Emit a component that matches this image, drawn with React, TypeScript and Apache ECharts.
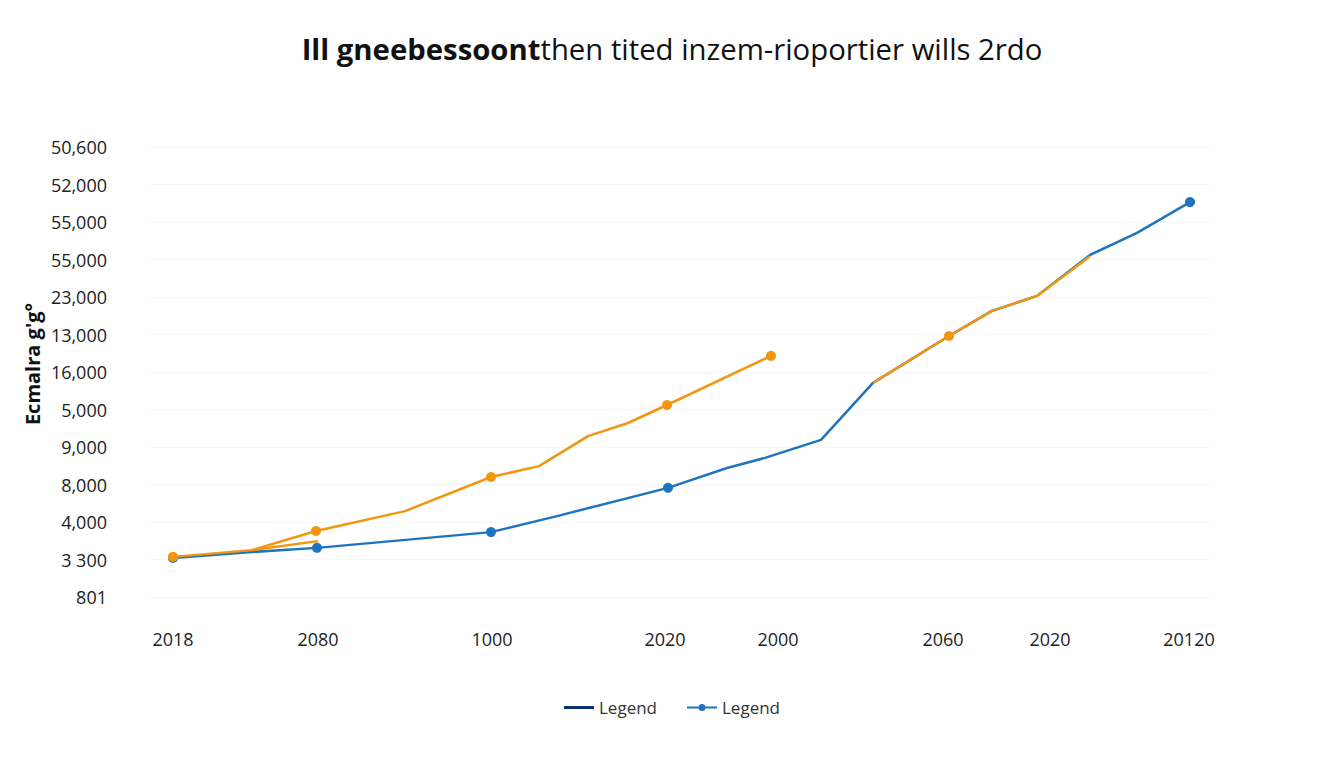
import React, { useEffect, useRef } from "react";
import * as echarts from "echarts";

const titleBold = "Ill gneebessoont";
const titleRest = "then tited inzem-rioportier wills 2rdo";
const yAxisTitle = "Ecmalra g'g°";
const yTickLabels = ["801", "3 300", "4,000", "8,000", "9,000", "5,000", "16,000", "13,000", "23,000", "55,000", "55,000", "52,000", "50,600"];
const xTickPositions = [23, 168, 342, 515, 628, 793, 900, 1039];
const xTickLabels = ["2018", "2080", "1000", "2020", "2000", "2060", "2020", "20120"];
const legendLabel = "Legend";

// [x, y, marker]
const bluePoints: [number, number, boolean][] = [
  [23, 1.04, true], [102, 1.2, false], [167, 1.31, true], [341, 1.73, true], [403, 2.13, false],
  [518, 2.91, true], [577, 3.44, false], [615, 3.71, false], [671, 4.19, false], [723, 5.71, false],
  [799, 6.96, false], [842, 7.63, false], [887, 8.03, false], [940, 9.12, false], [987, 9.71, false],
  [1040, 10.53, true],
];
const orangeMain: [number, number, boolean][] = [
  [23, 1.07, true], [102, 1.25, false], [166, 1.76, true], [255, 2.29, false], [341, 3.2, true],
  [389, 3.49, false], [438, 4.29, false], [478, 4.64, false], [517, 5.12, true], [621, 6.43, true],
];
const orangeUpper: [number, number, boolean][] = [
  [723, 5.71, false], [799, 6.96, true], [842, 7.63, false], [887, 8.03, false], [940, 9.09, false],
];
const orangeBranch: [number, number, boolean][] = [
  [102, 1.25, false], [168, 1.49, false],
];

const BLUE = "#1f74c0";
const ORANGE = "#f2960f";
const NAVY = "#0c3270";

const toData = (pts: [number, number, boolean][]) =>
  pts.map(([x, y, m]) => (m ? { value: [x, y] } : { value: [x, y], symbol: "none" }));

const LINE_ICON = "path://M0,0 L30,0 L30,3 L0,3 Z";
const DOT_ICON =
  "path://M0,2.5 L11.6,2.5 L11.6,4.5 L0,4.5 Z M18.4,2.5 L30,2.5 L30,4.5 L18.4,4.5 Z M11.5,3.5 A3.5,3.5 0 1,1 18.5,3.5 A3.5,3.5 0 1,1 11.5,3.5 Z";

export default function App() {
  const ref = useRef<HTMLDivElement>(null);
  useEffect(() => {
    document.body.style.margin = "0";
    const chart = echarts.init(ref.current!, undefined, { renderer: "svg" });
    const font = "'Open Sans', 'Noto Sans', sans-serif";
    chart.setOption({
      animation: false,
      backgroundColor: "#ffffff",
      textStyle: { fontFamily: font },
      title: {
        left: "center",
        top: 29,
        text: `{b|${titleBold}}{r|${titleRest}}`,
        textStyle: {
          rich: {
            b: { fontSize: 29.3, fontWeight: "bold", color: "#111", fontFamily: font },
            r: { fontSize: 29.3, fontWeight: "normal", color: "#111", fontFamily: font },
          },
        },
      },
      graphic: [
        {
          type: "text",
          x: 32,
          y: 364,
          rotation: Math.PI / 2,
          style: {
            text: yAxisTitle,
            textAlign: "center",
            textVerticalAlign: "middle",
            fontSize: 20,
            fontWeight: "bold",
            fill: "#111",
            fontFamily: font,
          },
        },
      ],
      grid: { left: 150, right: 134, top: 147, bottom: 171, containLabel: false },
      xAxis: {
        type: "value",
        min: 0,
        max: 1060,
        axisLine: { show: false },
        axisTick: { show: false },
        splitLine: { show: false },
        axisLabel: {
          customValues: xTickPositions,
          formatter: (v: number) => {
            const i = xTickPositions.indexOf(Math.round(v));
            return i >= 0 ? xTickLabels[i] : "";
          },
          margin: 33,
          fontSize: 18,
          color: "#222",
          fontFamily: font,
        },
      },
      yAxis: {
        type: "value",
        min: 0,
        max: 12,
        interval: 1,
        axisLine: { show: false },
        axisTick: { show: false },
        splitLine: { show: true, lineStyle: { color: "#f7f7f7", width: 1 } },
        axisLabel: {
          formatter: (v: number) => yTickLabels[Math.round(v)] ?? "",
          margin: 43,
          fontSize: 18,
          color: "#222",
          fontFamily: font,
        },
      },
      legend: {
        bottom: 47,
        left: "center",
        itemWidth: 30,
        itemHeight: 14,
        itemGap: 30,
        data: [
          { name: "navy", icon: LINE_ICON },
          { name: "blue", icon: DOT_ICON },
        ],
        formatter: () => legendLabel,
        textStyle: { fontSize: 17, color: "#333", fontFamily: font },
      },
      series: [
        {
          name: "navy",
          type: "line",
          data: [],
          symbol: "none",
          color: NAVY,
          lineStyle: { width: 3, color: NAVY },
          itemStyle: { color: NAVY },
        },
        {
          name: "blue",
          type: "line",
          data: toData(bluePoints),
          symbol: "circle",
          symbolSize: 10,
          color: BLUE,
          lineStyle: { width: 2.5, color: BLUE },
          itemStyle: { color: BLUE },
          z: 2,
        },
        {
          name: "orange",
          type: "line",
          data: toData(orangeMain),
          symbol: "circle",
          symbolSize: 10,
          color: ORANGE,
          lineStyle: { width: 2.5, color: ORANGE },
          itemStyle: { color: ORANGE },
          z: 3,
        },
        {
          name: "orange2",
          type: "line",
          data: toData(orangeUpper),
          symbol: "circle",
          symbolSize: 10,
          color: ORANGE,
          lineStyle: { width: 2.5, color: ORANGE },
          itemStyle: { color: ORANGE },
          z: 3,
        },
        {
          name: "orange3",
          type: "line",
          data: toData(orangeBranch),
          symbol: "none",
          color: ORANGE,
          lineStyle: { width: 2.5, color: ORANGE },
          z: 3,
        },
      ],
    });
    return () => chart.dispose();
  }, []);
  return <div ref={ref} style={{ width: 1344, height: 768 }} />;
}
